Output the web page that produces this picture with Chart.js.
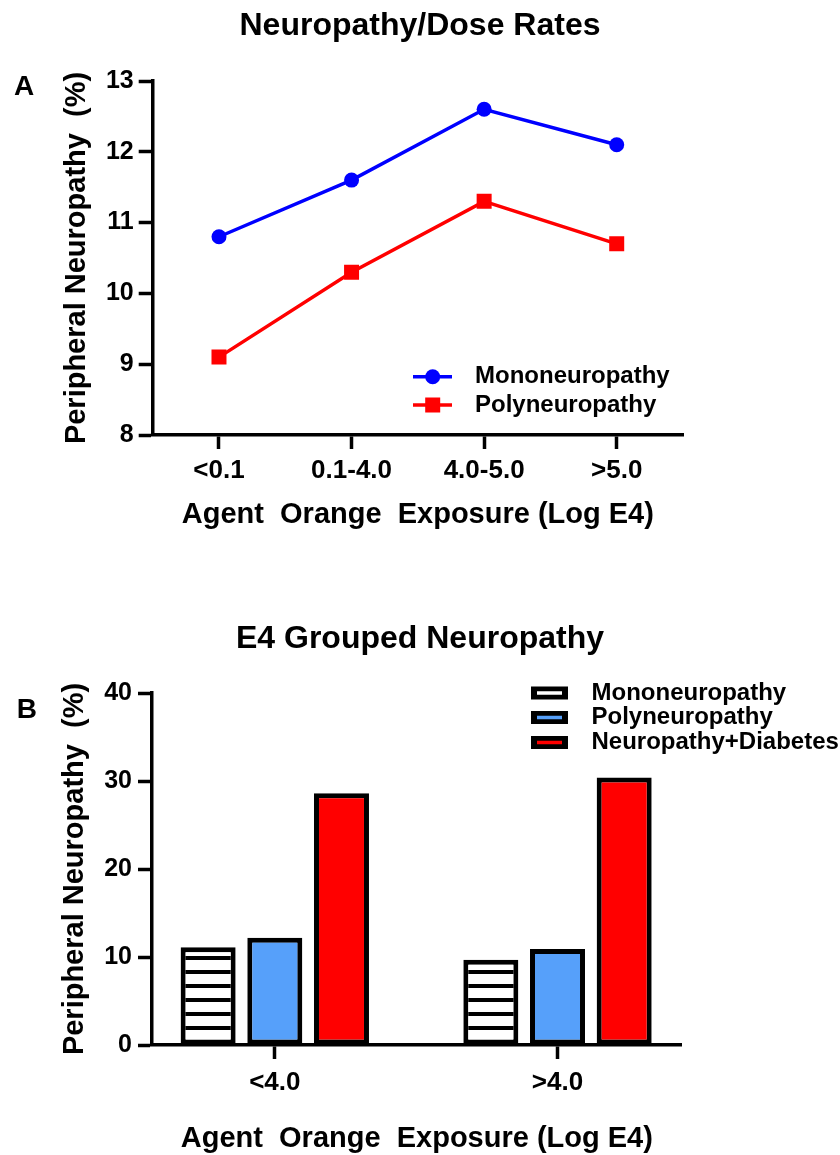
<!DOCTYPE html>
<html><head><meta charset="utf-8">
<script src="https://cdn.jsdelivr.net/npm/chart.js@4"></script>
<style>
html,body{margin:0;padding:0;background:#fff;width:840px;height:1155px;overflow:hidden}
#wa{position:absolute;left:0;top:0;width:840px;height:560px}
#wb{position:absolute;left:0;top:560px;width:840px;height:595px}
canvas{display:block}
</style></head><body>
<div id="wa"><canvas id="ca"></canvas></div>
<div id="wb"><canvas id="cb"></canvas></div>
<script>
const FONT = "'Liberation Sans', Arial, Helvetica, sans-serif";

// ---- Panel A data ----
const titleA = 'Neuropathy/Dose Rates';
const panelA = 'A';
const doseCategories = ['<0.1', '0.1-4.0', '4.0-5.0', '>5.0'];
const monoRates = [10.8, 11.6, 12.6, 12.1];
const polyRates = [9.1, 10.3, 11.3, 10.7];
const yTicksA = [8, 9, 10, 11, 12, 13];

// ---- Panel B data ----
const titleB = 'E4 Grouped Neuropathy';
const panelB = 'B';
const groupCategories = ['<4.0', '>4.0'];
const monoGrouped = [11.1, 9.7];
const polyGrouped = [12.2, 10.9];
const diabGrouped = [28.6, 30.4];
const yTicksB = [0, 10, 20, 30, 40];

const seriesNames = ['Mononeuropathy', 'Polyneuropathy', 'Neuropathy+Diabetes'];
const yTitle = 'Peripheral Neuropathy  (%)';
const xTitle = 'Agent  Orange  Exposure (Log E4)';

Chart.defaults.font.family = FONT;
Chart.defaults.color = '#000';

function panelLabel(text, x, y) {
  return {
    id: 'panel' + text,
    afterDraw(chart) {
      const ctx = chart.ctx;
      ctx.save();
      ctx.font = 'bold 28px ' + FONT;
      ctx.fillStyle = '#000';
      ctx.textAlign = 'left';
      ctx.textBaseline = 'middle';
      ctx.fillText(text, x, y);
      ctx.restore();
    }
  };
}

const legendA = {
  id: 'legendA',
  afterDatasetsDraw(chart) {
    const ctx = chart.ctx;
    const rows = [376.7, 405];
    chart.data.datasets.forEach((ds, i) => {
      const y = rows[i];
      ctx.save();
      ctx.strokeStyle = ds.borderColor;
      ctx.lineWidth = ds.borderWidth;
      ctx.beginPath(); ctx.moveTo(413, y); ctx.lineTo(452, y); ctx.stroke();
      ctx.fillStyle = ds.pointBackgroundColor;
      if (ds.pointStyle === 'rect') {
        ctx.fillRect(432.7 - 7.5, y - 7.5, 15, 15);
      } else {
        ctx.beginPath(); ctx.arc(432.7, y, 7.5, 0, Math.PI * 2); ctx.fill();
      }
      ctx.fillStyle = '#000';
      ctx.font = 'bold 24px ' + FONT;
      ctx.textAlign = 'left';
      ctx.textBaseline = 'middle';
      ctx.fillText(ds.label, 475, y);
      ctx.restore();
    });
  }
};

const legendB = {
  id: 'legendB',
  afterDatasetsDraw(chart) {
    const ctx = chart.ctx;
    const rows = [133, 157.5, 182.5];
    chart.data.datasets.forEach((ds, i) => {
      const y = rows[i];
      ctx.save();
      ctx.fillStyle = '#000';
      ctx.fillRect(531, y - 6.5, 37, 13);
      ctx.fillStyle = ds.legendColor;
      ctx.fillRect(537, y - 1.75, 25, 3.5);
      ctx.fillStyle = '#000';
      ctx.font = 'bold 24px ' + FONT;
      ctx.textAlign = 'left';
      ctx.textBaseline = 'middle';
      ctx.fillText(ds.label, 591.5, y);
      ctx.restore();
    });
  }
};

const axisCommon = {
  border: { display: true, color: '#000', width: 3.5 },
  grid: { display: true, drawOnChartArea: false, drawTicks: true, tickLength: 14, tickWidth: 3.5, tickColor: '#000', offset: false }
};

// invisible right-hand spacer axis so the title stays centred on the page
function spacer(w) {
  return {
    position: 'right', display: true, min: 0, max: 1,
    grid: { display: false, drawTicks: false }, border: { display: false },
    ticks: { display: false }, title: { display: false },
    afterFit(s) { s.width = w; }
  };
}

// ---------- Chart A ----------
new Chart(document.getElementById('ca'), {
  type: 'line',
  data: {
    labels: doseCategories,
    datasets: [
      { label: seriesNames[0], data: monoRates, borderColor: '#0000ff', backgroundColor: '#0000ff',
        pointBackgroundColor: '#0000ff', pointBorderColor: '#0000ff', pointBorderWidth: 0,
        borderWidth: 3.5, pointStyle: 'circle', pointRadius: 7.5, tension: 0, fill: false },
      { label: seriesNames[1], data: polyRates, borderColor: '#ff0000', backgroundColor: '#ff0000',
        pointBackgroundColor: '#ff0000', pointBorderColor: '#ff0000', pointBorderWidth: 0,
        borderWidth: 3.5, pointStyle: 'rect', pointRadius: 10.6, tension: 0, fill: false }
    ]
  },
  options: {
    responsive: true, maintainAspectRatio: false, animation: false,
    layout: { padding: { left: 0, right: 0, top: 0, bottom: 15 } },
    plugins: {
      legend: { display: false }, tooltip: { enabled: false },
      title: { display: true, text: titleA, color: '#000',
        font: { family: FONT, size: 32, weight: 'bold', lineHeight: 1.2 },
        padding: { top: 6.5, bottom: 36.1 } }
    },
    scales: {
      x: Object.assign({}, axisCommon, {
        type: 'category', offset: true,
        ticks: { color: '#000', font: { family: FONT, size: 26, weight: 'bold' }, padding: 6.5, maxRotation: 0, autoSkip: false },
        title: { display: true, text: xTitle, color: '#000', font: { family: FONT, size: 29, weight: 'bold', lineHeight: 1.0 }, padding: { top: 0, bottom: 15.5 } },
        afterFit(s) { s.height = 110; }
      }),
      y: Object.assign({}, axisCommon, {
        min: yTicksA[0], max: yTicksA[yTicksA.length - 1],
        afterBuildTicks(s) { s.ticks = yTicksA.map(v => ({ value: v })); },
        ticks: { color: '#000', font: { family: FONT, size: 25, weight: 'bold' }, padding: 5 },
        title: { display: true, text: yTitle, color: '#000', font: { family: FONT, size: 29, weight: 'bold', lineHeight: 1.2 }, padding: { top: 60, bottom: 0 } },
        afterFit(s) { s.width = 152.7; }
      }),
      yr: spacer(157)
    }
  },
  plugins: [legendA, panelLabel(panelA, 14, 87.5)]
});

// ---------- Chart B ----------
const cbEl = document.getElementById('cb');
function stripePattern(ctx) {
  const c = document.createElement('canvas');
  c.width = 8; c.height = 14;
  const g = c.getContext('2d');
  g.fillStyle = '#fff'; g.fillRect(0, 0, 8, 14);
  g.fillStyle = '#000'; g.fillRect(0, 4, 8, 4);
  return ctx.createPattern(c, 'repeat');
}
const stripes = stripePattern(cbEl.getContext('2d'));

function toPoints(arr) { return arr.map((v, i) => ({ x: i, y: v })); }

new Chart(cbEl, {
  type: 'bar',
  data: {
    datasets: [
      { label: seriesNames[0], data: toPoints(monoGrouped), backgroundColor: stripes, legendColor: '#ffffff',
        borderColor: '#000', borderWidth: 5, borderSkipped: false, yAxisID: 'y' },
      { label: seriesNames[1], data: toPoints(polyGrouped), backgroundColor: '#56a0fa', legendColor: '#56a0fa',
        borderColor: '#000', borderWidth: 5, borderSkipped: false, yAxisID: 'y' },
      { label: seriesNames[2], data: toPoints(diabGrouped), backgroundColor: '#ff0000', legendColor: '#ff0000',
        borderColor: '#000', borderWidth: 5, borderSkipped: false, yAxisID: 'y' }
    ]
  },
  options: {
    responsive: true, maintainAspectRatio: false, animation: false,
    datasets: { bar: { categoryPercentage: 0.7075, barPercentage: 0.825 } },
    layout: { padding: { left: 0, right: 0, top: 0, bottom: 0 } },
    plugins: {
      legend: { display: false }, tooltip: { enabled: false },
      title: { display: true, text: titleB, color: '#000',
        font: { family: FONT, size: 32, weight: 'bold', lineHeight: 1.2 },
        padding: { top: 59.5, bottom: 35.1 } }
    },
    scales: {
      x: Object.assign({}, axisCommon, {
        type: 'linear', offset: false, min: -0.4344, max: 1.4393,
        afterBuildTicks(s) { s.ticks = groupCategories.map((c, i) => ({ value: i })); },
        ticks: { color: '#000', font: { family: FONT, size: 26, weight: 'bold' }, padding: 8, maxRotation: 0, autoSkip: false,
          callback: (v) => groupCategories[v] !== undefined ? groupCategories[v] : '' },
        title: { display: true, text: xTitle, color: '#000', font: { family: FONT, size: 29, weight: 'bold', lineHeight: 1.0 }, padding: { top: 0, bottom: 1.5 } },
        afterFit(s) { s.height = 110; }
      }),
      y: Object.assign({}, axisCommon, {
        min: yTicksB[0], max: yTicksB[yTicksB.length - 1],
        afterBuildTicks(s) { s.ticks = yTicksB.map(v => ({ value: v })); },
        ticks: { color: '#000', font: { family: FONT, size: 25, weight: 'bold' }, padding: 6 },
        title: { display: true, text: yTitle, color: '#000', font: { family: FONT, size: 29, weight: 'bold', lineHeight: 1.2 }, padding: { top: 58, bottom: 0 } },
        afterFit(s) { s.width = 152; }
      }),
      yr: spacer(158.3)
    }
  },
  plugins: [legendB, panelLabel(panelB, 16.7, 150)]
});
</script>
</body></html>
